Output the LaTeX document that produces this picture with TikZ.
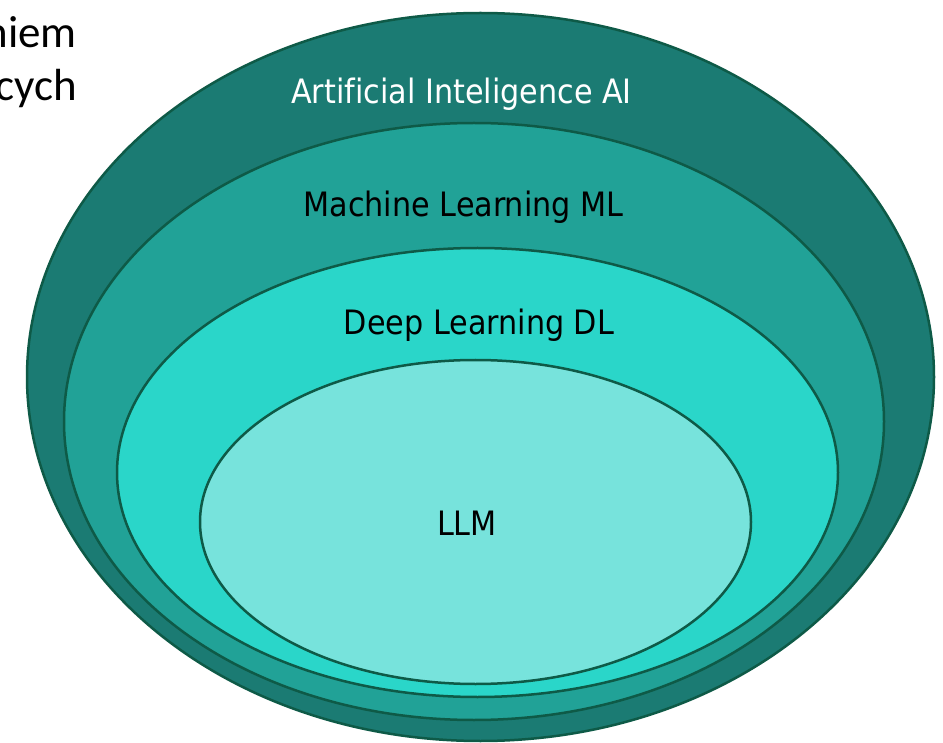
\documentclass[tikz,border=0pt]{standalone}
\usepackage{fontspec}
\newfontfamily\lblfont[Ligatures=NoCommon]{DejaVu Sans Condensed}
\newfontfamily\sidefont[Ligatures=NoCommon]{Carlito}
\definecolor{aiC}{HTML}{1B7B73}
\definecolor{mlC}{HTML}{21A297}
\definecolor{dlC}{HTML}{2AD6C9}
\definecolor{llmC}{HTML}{77E3DC}
\definecolor{edgeC}{HTML}{0E5A47}
\begin{document}
\begin{tikzpicture}[x=1pt,y=-1pt,
  ring/.style={draw=edgeC, line width=2.5pt},
  lbl/.style={font=\lblfont\fontsize{33.6}{40}\selectfont, inner sep=0pt},
  side/.style={font=\sidefont\fontsize{45}{54}\selectfont, inner sep=0pt, anchor=base east}]
\clip (0,0) rectangle (943,743);
\fill[white] (0,0) rectangle (943,743);
\draw[ring, fill=aiC] (480.5,377) ellipse [x radius=453.5, y radius=364];
\draw[ring, fill=mlC] (474,421.5) ellipse [x radius=410, y radius=298.5];
\draw[ring, fill=dlC] (477.5,472.5) ellipse [x radius=360.5, y radius=224.5];
\draw[ring, fill=llmC] (475.5,522) ellipse [x radius=275.5, y radius=162];
\node[lbl, text=white] (ai) at (461.5,94) {Artificial Inteligence AI};
\node[lbl] (ml) at (463.5,207) {Machine Learning ML};
\node[lbl] (dl) at (479,325) {Deep Learning DL};
\node[lbl] (llm) at (467,523) {LLM};
\node[side] (t1) at (77,48) {niem};
\node[side] (t2) at (77,101) {cych};
\end{tikzpicture}
\end{document}
